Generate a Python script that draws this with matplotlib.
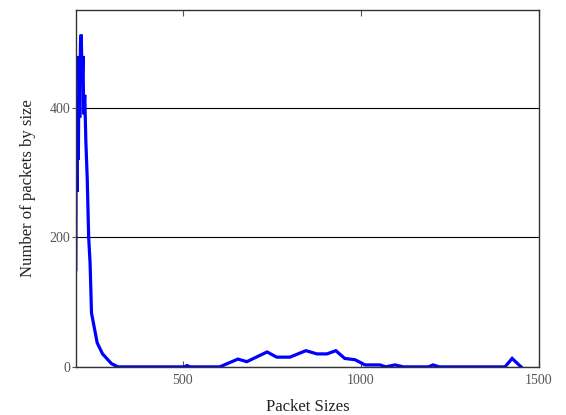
import matplotlib
matplotlib.use('Agg')
import matplotlib.pyplot as plt

# packet size -> number of packets
sizes = [200, 201, 203, 205, 207, 209, 211, 213, 215, 218, 220, 222, 225, 228,
         232, 236, 240, 244, 252, 260, 275, 300, 318,
         400, 505, 512, 520, 604, 655, 680, 737, 764, 801, 846, 877, 905, 930,
         955, 984, 1012, 1054, 1070, 1096, 1120, 1190, 1203, 1220, 1405, 1425, 1450]
counts = [150, 375, 270, 420, 320, 480, 385, 500, 513, 440, 480, 390, 420, 350,
          290, 200, 160, 83, 60, 37, 20, 5, 0,
          0, 0, 2, 0, 0, 12, 8, 23, 15, 15, 25, 20, 20, 25,
          13, 11, 3, 3, 0, 3, 0, 0, 3, 0, 0, 13, 0]

plt.rcParams['font.family'] = ['Liberation Serif', 'DejaVu Serif']

fig = plt.figure(figsize=(5.66, 4.15), dpi=100)
ax = fig.add_axes([0.134, 0.116, 0.818, 0.86])

ax.plot(sizes, counts, color='blue', lw=2.3, solid_joinstyle='miter')

ax.set_xlim(200, 1500)
ax.set_ylim(0, 551)
ax.set_xticks([500, 1000, 1500])
ax.set_yticks([0, 200, 400])
ax.grid(axis='y', color='black', lw=0.8)
ax.tick_params(axis='x', direction='in', top=True, length=4, labelsize=10, labelcolor='#555555', color='#555555', pad=5)
ax.tick_params(axis='y', direction='out', length=3, labelsize=10, labelcolor='#555555', color='#555555', pad=1)
for s in ax.spines.values():
    s.set_color('#333333')
    s.set_linewidth(1)

ax.set_xlabel('Packet Sizes', fontsize=12, color='#222222', labelpad=9)
ax.set_ylabel('Number of packets by size', fontsize=12, color='#222222', labelpad=10)

fig.savefig('out.png', dpi=100)
